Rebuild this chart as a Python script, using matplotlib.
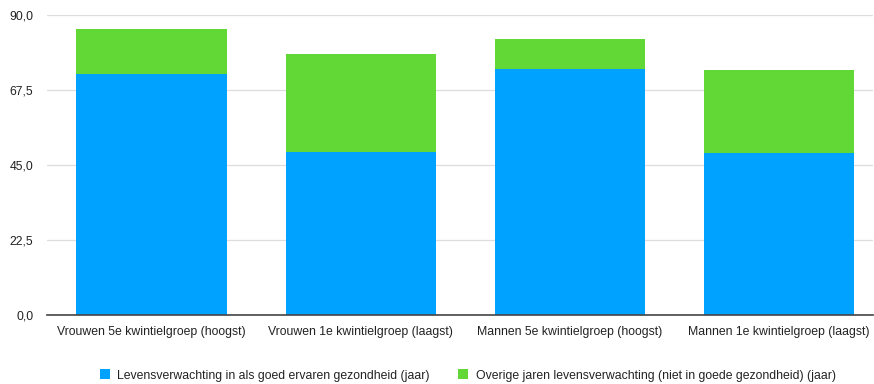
import numpy as np
import matplotlib
matplotlib.use("Agg")
import matplotlib.pyplot as plt
from matplotlib.ticker import FuncFormatter

## DATA
groepen = ["Vrouwen 5e kwintielgroep (hoogst)", "Vrouwen 1e kwintielgroep (laagst)",
           "Mannen 5e kwintielgroep (hoogst)", "Mannen 1e kwintielgroep (laagst)"]
gezond = [72.3, 49.0, 73.7, 48.7]
totaal = [85.8, 78.2, 82.9, 73.6]
overig = [t - g for t, g in zip(totaal, gezond)]
labels = ["Levensverwachting in als goed ervaren gezondheid (jaar)",
          "Overige jaren levensverwachting (niet in goede gezondheid) (jaar)"]
yticks = [0, 22.5, 45, 67.5, 90]

plt.rcParams["font.family"] = ["Liberation Sans", "DejaVu Sans"]

fig = plt.figure(figsize=(8.74, 3.84), dpi=100)
ax = fig.add_axes([0.054, 0.180, 0.945, 0.781])

x = np.arange(len(groepen))
ax.bar(x, gezond, width=0.72, color="#00A2FF", label=labels[0], zorder=3)
ax.bar(x, overig, width=0.72, bottom=gezond, color="#61D836", label=labels[1], zorder=3)

ax.set_ylim(0, 90)
ax.set_xlim(-0.5, 3.45)
ax.set_yticks(yticks)
ax.yaxis.set_major_formatter(FuncFormatter(lambda v, p: f"{v:.1f}".replace(".", ",")))
ax.set_xticks(x)
ax.set_xticklabels(groepen)
ax.tick_params(axis="both", length=0, colors="#222222")
ax.tick_params(axis="y", pad=10, labelsize=8.8)
ax.tick_params(axis="x", pad=8, labelsize=8.8)

ax.grid(axis="y", color="#DDDDDD", lw=0.9, zorder=0)
for s in ["top", "right", "left"]:
    ax.spines[s].set_visible(False)
ax.spines["bottom"].set_color("#444444")
ax.spines["bottom"].set_linewidth(1.2)
ax.spines["bottom"].set_zorder(4)

fig.legend(loc="center", bbox_to_anchor=(0.535, 0.022), ncol=2, frameon=False,
           fontsize=8.8, handlelength=0.85, handleheight=0.85, columnspacing=2.3,
           handletextpad=0.6, labelcolor="#222222")

fig.savefig("out.png", dpi=100)
